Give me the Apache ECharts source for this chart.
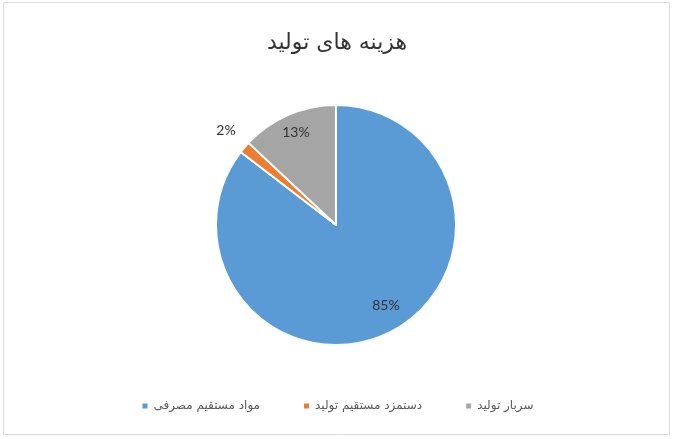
<!DOCTYPE html>
<html><head><meta charset="utf-8">
<script src="https://cdn.jsdelivr.net/npm/echarts@6/dist/echarts.min.js"></script>
<style>html,body{margin:0;padding:0;background:#fff}#c{width:674px;height:439px}</style>
</head><body><div id="c"></div>
<script>
const titleText = 'هزینه های تولید';
const categories = ['مواد مستقیم مصرفی', 'دستمزد مستقیم تولید', 'سربار تولید'];
const values = [85.4, 1.6, 13.0];
const colors = ['#5B9BD5', '#ED7D31', '#A5A5A5'];
const labelOffsets = [[22, 24], [-62, -54], [-15, -35]];

const chart = echarts.init(document.getElementById('c'));
chart.setOption({
  animation: false,
  backgroundColor: '#fff',
  graphic: [{
    type: 'rect', shape: { x: 3.5, y: 2.5, width: 666, height: 432 },
    style: { fill: 'none', stroke: '#d9d9d9', lineWidth: 1 }, silent: true
  }],
  title: {
    text: titleText, left: 'center', top: 27,
    textStyle: { fontFamily: 'DejaVu Sans', fontSize: 22, fontWeight: 'normal', color: '#333' }
  },
  legend: {
    bottom: 22, left: 'center', itemWidth: 7, itemHeight: 7, itemGap: 42, icon: 'rect',
    textStyle: { fontFamily: 'DejaVu Sans', fontSize: 12, color: '#595959' },
    data: categories
  },
  series: [{
    type: 'pie', center: [336, 225], radius: [0, 120], startAngle: 90, clockwise: true,
    percentPrecision: 0,
    itemStyle: { borderColor: '#fff', borderWidth: 2 },
    label: {
      position: 'inside', formatter: '{d}%',
      fontFamily: 'Lato', fontSize: 14, color: '#333'
    },
    labelLine: { show: false },
    emphasis: { disabled: true },
    data: categories.map((n, i) => ({
      name: n, value: values[i], itemStyle: { color: colors[i] },
      label: { offset: labelOffsets[i] }
    }))
  }]
});
</script></body></html>
